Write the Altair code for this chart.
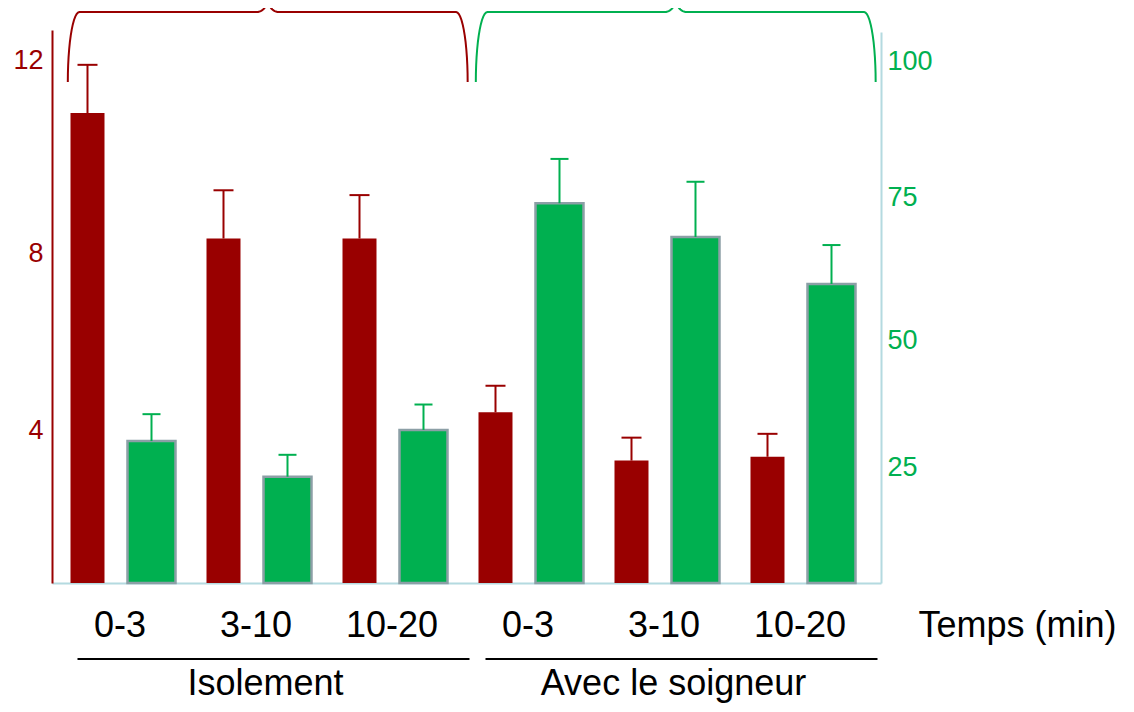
import json
import numpy as np
import pandas as pd
import altair as alt

# ---- data ----
categories = ["0-3", "3-10", "10-20", "0-3", "3-10", "10-20"]
red_mean = [10.9, 8.3, 8.3, 4.4, 3.2, 3.3]
red_err = [1.0, 1.0, 0.9, 0.6, 0.6, 0.6]
green_mean = [30.1, 22.9, 32.3, 73.9, 68.0, 59.8]
green_err = [5.3, 4.5, 5.0, 8.1, 9.8, 6.8]
group_names = ["Isolement", "Avec le soigneur"]
group_first = [0, 3]
group_last = [2, 5]
left_ticks = [4, 8, 12]
right_ticks = [25, 50, 75, 100]
x_title = "Temps (min)"

RED = "#990000"
GREEN = "#00B050"
PALE = "#b4dae0"
GREY = "#8c9fa6"
FONT = "Liberation Sans"

df = pd.DataFrame({
    "i": list(range(len(categories))),
    "cat": categories,
    "red": red_mean,
    "red_err": red_err,
    "green": green_mean,
    "green_err": green_err,
})
df_groups = pd.DataFrame({"name": group_names, "first": group_first, "last": group_last})

# brace outline (decoration) built from each group's span
def brace(a, b, name):
    m = (a + b) / 2.0
    r, r2, h = 0.085, 0.08, 0.2
    th = np.linspace(0, np.pi / 2, 14)
    pts = []
    pts += [(a + r - r * np.cos(t), np.sin(t)) for t in th]
    pts += [(m - r2 + r2 * np.sin(t), 1 + h * (1 - np.cos(t))) for t in th]
    pts += [(m + r2 - r2 * np.sin(t), 1 + h * (1 - np.cos(t))) for t in th[::-1]]
    pts += [(b - r + r * np.cos(t), np.sin(t)) for t in th[::-1]]
    return [{"bx": float(x), "by": float(y), "k": k, "name": name} for k, (x, y) in enumerate(pts)]

rows = []
for n, f, l in zip(group_names, group_first, group_last):
    rows += brace(f - 0.38, l + 0.56, n)
df_brace = pd.DataFrame(rows)

# ---- scales / axes ----
xscale = alt.Scale(domain=[-0.4963, 5.5993], nice=False, zero=False, padding=0)
xaxis = alt.Axis(
    values=list(range(len(categories))),
    labelExpr=json.dumps(categories) + "[datum.value]",
    labelFontSize=36, labelColor="black", labelPadding=25, labelFont=FONT,
    labelOverlap=False, labelFlush=False,
    ticks=False, grid=False, domainColor=PALE, domainWidth=2,
    title=x_title, titleX=866, titleY=53, titleAlign="left", titleBaseline="alphabetic",
    titleFontSize=36, titleFontWeight="normal", titleColor="black", titleFont=FONT,
)

def X(field):
    return alt.X(f"{field}:Q", scale=xscale, axis=xaxis)

yl = alt.Scale(domain=[0, 4, 8, 12, 12.62], range=[553, 400, 223, 30, 0], nice=False, zero=False, padding=0)
yr = alt.Scale(domain=[0, 25, 50, 75, 100, 105.33], range=[553, 437, 310, 167, 31, 2], nice=False, zero=False, padding=0)
left_axis = alt.Axis(orient="left", values=left_ticks, labelFontSize=27, labelColor=RED, labelFont=FONT,
                     labelPadding=9, ticks=False, grid=False, domainColor=RED, domainWidth=2, title=None)
right_axis = alt.Axis(orient="right", values=right_ticks, labelFontSize=27, labelColor=GREEN, labelFont=FONT,
                      labelPadding=6, ticks=False, grid=False, domainColor=PALE, domainWidth=2, title=None)

base = alt.Chart(df).transform_calculate(
    rtop="datum.red + datum.red_err", gtop="datum.green + datum.green_err"
)

red_bars = base.mark_bar(color=RED, width=34, xOffset=-32).encode(
    x=X("i"), y=alt.Y("red:Q", scale=yl, axis=left_axis))
red_whisk = base.mark_rule(color=RED, strokeWidth=2, xOffset=-32).encode(
    x=X("i"), y=alt.Y("red:Q", scale=yl, axis=left_axis), y2="rtop:Q")
red_cap = base.mark_rule(color=RED, strokeWidth=2, xOffset=-42, x2Offset=-22).encode(
    x=X("i"), x2="i:Q", y=alt.Y("rtop:Q", scale=yl, axis=left_axis))
red = alt.layer(red_bars, red_whisk, red_cap)

green_bars = base.mark_bar(fill=GREEN, stroke=GREY, strokeWidth=2.5, width=48, xOffset=32).encode(
    x=X("i"), y=alt.Y("green:Q", scale=yr, axis=right_axis))
green_whisk = base.mark_rule(color=GREEN, strokeWidth=2, xOffset=32).encode(
    x=X("i"), y=alt.Y("green:Q", scale=yr, axis=right_axis), y2="gtop:Q")
green_cap = base.mark_rule(color=GREEN, strokeWidth=2, xOffset=23, x2Offset=41).encode(
    x=X("i"), x2="i:Q", y=alt.Y("gtop:Q", scale=yr, axis=right_axis))
green = alt.layer(green_bars, green_whisk, green_cap)

braces = alt.Chart(df_brace).mark_line(strokeWidth=2, interpolate="linear").encode(
    x=X("bx"),
    y=alt.Y("by:Q", scale=alt.Scale(domain=[0, 1], range=[52, -18], nice=False, zero=False, padding=0), axis=None),
    order="k:Q",
    detail="name:N",
    color=alt.Color("name:N", scale=alt.Scale(domain=group_names, range=[RED, GREEN]), legend=None),
)

underline = alt.Chart(df_groups).mark_rule(color="black", strokeWidth=2, xOffset=-42, x2Offset=78).encode(
    x=X("first"), x2="last:Q", y=alt.value(629))

glabels = alt.Chart(df_groups).transform_calculate(mid="(datum.first + datum.last) / 2").mark_text(
    fontSize=36, baseline="alphabetic", align="center", xOffset=10, color="black", font=FONT
).encode(x=X("mid"), y=alt.value(665), text="name:N")

chart = alt.layer(red, green, braces, underline, glabels).resolve_scale(y="independent").properties(
    width=829, height=553,
    padding={"left": 44, "top": 22, "right": 240, "bottom": 121},
    autosize="none",
).configure(font=FONT).configure_view(stroke=None)

chart.save("out.html", embed_options={"renderer": "svg", "actions": False})
